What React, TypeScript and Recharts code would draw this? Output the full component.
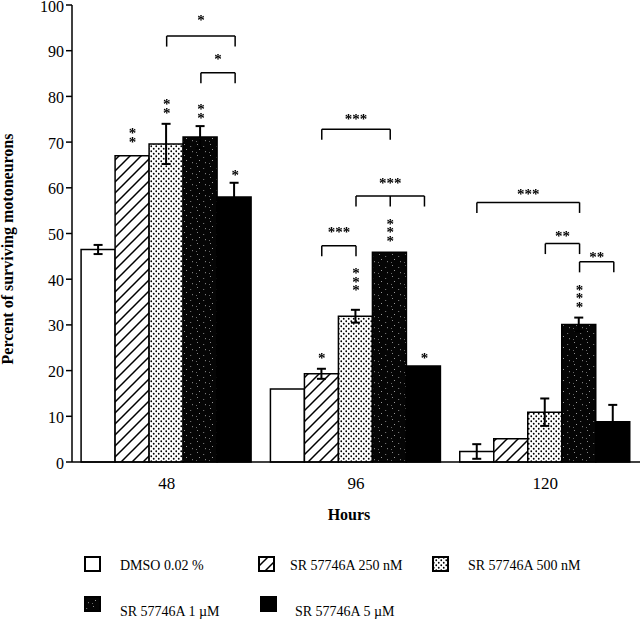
import React from 'react';
import { BarChart, Bar, XAxis, YAxis, ErrorBar, ReferenceLine, ReferenceDot, Legend, Label } from 'recharts';

// values (percent of surviving motoneurons)
const hours = ['48', '96', '120'];
const dmso = [46.5, 16.0, 2.3];
const dmsoErr = [1.0, 0, 1.6];
const nm250 = [67.0, 19.3, 5.1];
const nm250Err = [0, 1.1, 0];
const nm500 = [69.6, 31.9, 10.9];
const nm500Err = [4.4, 1.4, 3.0];
const um1 = [71.1, 45.9, 30.1];
const um1Err = [2.4, 0, 1.5];
const um5 = [58.0, 21.0, 8.8];
const um5Err = [3.1, 0, 3.7];

const yTicks = [0, 10, 20, 30, 40, 50, 60, 70, 80, 90, 100];
const seriesNames = ['DMSO 0.02 %', 'SR 57746A 250 nM', 'SR 57746A 500 nM', 'SR 57746A 1 µM', 'SR 57746A 5 µM'];

// significance stars above single bars (group, bar index, y value, text)
const barStars = [
  { g: 0, b: 1, y: 71.5, t: '**' },
  { g: 0, b: 2, y: 77.9, t: '**' },
  { g: 0, b: 3, y: 76.8, t: '**' },
  { g: 0, b: 4, y: 63.3, t: '*' },
  { g: 1, b: 1, y: 23.2, t: '*' },
  { g: 1, b: 2, y: 40.0, t: '***' },
  { g: 1, b: 3, y: 50.8, t: '***' },
  { g: 1, b: 4, y: 23.3, t: '*' },
  { g: 2, b: 3, y: 36.3, t: '***' },
];

// comparison brackets
const brackets = [
  { g: 0, from: 2, to: 4, y: 93.2, t: '*', ty: 97.3 },
  { g: 0, from: 3, to: 4, y: 85.2, t: '*', ty: 88.8 },
  { g: 1, from: 1, to: 3, y: 72.8, t: '***', ty: 75.6 },
  { g: 1, from: 2, to: 4, mid: 3, y: 58.2, t: '***', ty: 61.5 },
  { g: 1, from: 1, to: 2, y: 47.3, t: '***', ty: 50.8 },
  { g: 2, from: 0, to: 3, y: 56.8, t: '***', ty: 59.1 },
  { g: 2, from: 2, to: 3, y: 47.8, t: '**', ty: 49.9 },
  { g: 2, from: 3, to: 4, y: 43.8, t: '**', ty: 45.4 },
];

const data = hours.map((hour, i) => ({
  hour,
  slot: i,
  dmso: dmso[i], dmsoErr: dmsoErr[i],
  nm250: nm250[i], nm250Err: nm250Err[i],
  nm500: nm500[i], nm500Err: nm500Err[i],
  um1: um1[i], um1Err: um1Err[i],
  um5: um5[i], um5Err: um5Err[i],
}));

const series = [
  { key: 'dmso', err: 'dmsoErr', fill: '#ffffff' },
  { key: 'nm250', err: 'nm250Err', fill: 'url(#hatch)' },
  { key: 'nm500', err: 'nm500Err', fill: 'url(#dots)' },
  { key: 'um1', err: 'um1Err', fill: 'url(#speckle)' },
  { key: 'um5', err: 'um5Err', fill: '#000000' },
];

const FONT = '"Liberation Serif", "Times New Roman", serif';
const GAP = 0.048; // same as barCategoryGap
const LEG = 2.3;
const STAR_SIZE = 15;
const STACK = 8.5;

// centre of bar b in group g on the hidden numeric axis (one unit per group)
const barX = (g: number, b: number) => g + GAP + ((1 - 2 * GAP) / series.length) * (b + 0.5);

const Stars = ({ cx, cy, text, vertical }: any) => {
  const common = {
    textAnchor: 'middle' as const,
    fontFamily: FONT,
    fontSize: STAR_SIZE,
    fontWeight: 'bold',
    fill: '#000',
    stroke: 'none',
  };
  const base = STAR_SIZE * 0.49;
  if (!vertical) {
    return (
      <g filter="url(#gray)">
        <text x={cx} y={cy + base} {...common}>{text}</text>
      </g>
    );
  }
  const n = text.length;
  const top = cy - ((n - 1) / 2) * STACK + base;
  return (
    <g filter="url(#gray)">
      <text x={cx} y={top} {...common}>
        {Array.from(text).map((s: any, i: number) => (
          <tspan key={i} x={cx} dy={i === 0 ? 0 : STACK}>{s}</tspan>
        ))}
      </text>
    </g>
  );
};

const Patterns = () => (
  <defs>
    <filter id="gray" x="-50%" y="-50%" width="200%" height="200%">
      <feColorMatrix type="saturate" values="0" />
    </filter>
    <pattern id="hatch" patternUnits="userSpaceOnUse" width="11" height="11">
      <rect width="11" height="11" fill="#fff" />
      <path d="M-1,12 L12,-1 M-3,3 L3,-3 M8,14 L14,8" stroke="#000" strokeWidth="1.5" />
    </pattern>
    <pattern id="dots" patternUnits="userSpaceOnUse" width="5" height="5">
      <rect width="5" height="5" fill="#fff" />
      <circle cx="1.25" cy="1.25" r="0.9" fill="#000" />
      <circle cx="3.75" cy="3.75" r="0.9" fill="#000" />
    </pattern>
    <pattern id="speckle" patternUnits="userSpaceOnUse" width="13" height="11">
      <rect width="13" height="11" fill="#050505" />
      <rect x="2" y="1" width="1" height="1" fill="#8a8a8a" />
      <rect x="8" y="3" width="1.2" height="1" fill="#6e6e6e" />
      <rect x="4" y="6" width="1" height="1" fill="#9a9a9a" />
      <rect x="10" y="8" width="1" height="1.2" fill="#7a7a7a" />
      <rect x="1" y="9" width="1" height="1" fill="#666" />
    </pattern>
  </defs>
);

const legendPos = [
  [85, 18, 120, 31],
  [259, 18, 290, 31],
  [433, 18, 468, 31],
  [85, 58, 120, 77],
  [261, 58, 295, 77],
];

const renderLegend = () => (
  <svg width={640} height={80} style={{ display: 'block' }}>
    {series.map((s, i) => {
      const [sx, sy, tx, ty] = legendPos[i];
      return (
        <g key={s.key}>
          <rect x={sx} y={sy} width={15} height={14} fill={s.fill} stroke="#000" strokeWidth={2} />
          <text x={tx} y={ty} fontFamily={FONT} fontSize={14} fill="#000">{seriesNames[i]}</text>
        </g>
      );
    })}
  </svg>
);

const YTick = (p: any) => (
  <text x={p.x} y={p.y + 6.5} textAnchor="end" fontFamily={FONT} fontSize={16} fill="#000">
    {p.payload.value}
  </text>
);

export default function App() {
  return (
    <div style={{ position: 'absolute', left: 0, top: 0, width: 640, height: 619, background: '#fff' }}>
      <BarChart
        width={640}
        height={619}
        data={data}
        margin={{ top: 5, right: 0, bottom: 0, left: 0 }}
        barGap={0}
        barCategoryGap="4.8%"
      >
        <Patterns />
        <XAxis
          xAxisId="cat"
          dataKey="hour"
          height={77}
          tickLine={false}
          tickSize={0}
          tickMargin={15}
          axisLine={{ stroke: '#000', strokeWidth: 1.5 }}
          tick={{ fill: '#000', fontSize: 17, fontFamily: FONT }}
        >
          <Label
            content={(p: any) => {
              const vb = p.viewBox || { x: 72, width: 568, y: 462 };
              return (
                <text x={vb.x + vb.width / 2 - 7} y={520} textAnchor="middle" fontFamily={FONT} fontSize={16} fontWeight="bold" fill="#000">
                  Hours
                </text>
              );
            }}
          />
        </XAxis>
        <XAxis xAxisId="num" dataKey="slot" type="number" domain={[0, 3]} allowDataOverflow hide />
        <YAxis
          width={72}
          domain={[0, 100]}
          ticks={yTicks}
          interval={0}
          tickSize={6}
          tickMargin={2}
          axisLine={{ stroke: '#000', strokeWidth: 1.5 }}
          tickLine={{ stroke: '#000', strokeWidth: 1.5 }}
          tick={<YTick />}
        >
          <Label
            content={() => (
              <text transform="translate(13,249) rotate(-90)" textAnchor="middle" fontFamily={FONT} fontSize={16} fontWeight="bold" fill="#000">
                Percent of surviving motoneurons
              </text>
            )}
          />
        </YAxis>
        {series.map((s, i) => (
          <Bar key={s.key} xAxisId="cat" dataKey={s.key} name={seriesNames[i]} fill={s.fill} stroke="#000" strokeWidth={1.5} isAnimationActive={false}>
            <ErrorBar dataKey={s.err} width={4.5} stroke="#000" strokeWidth={2} direction="y" isAnimationActive={false} />
          </Bar>
        ))}
        {brackets.flatMap((br, k) => {
          const x1 = barX(br.g, br.from);
          const x2 = barX(br.g, br.to);
          const legs = [x1, x2];
          if (br.mid !== undefined) legs.push(barX(br.g, br.mid));
          return [
            <ReferenceLine key={`h${k}`} xAxisId="num" segment={[{ x: x1, y: br.y }, { x: x2, y: br.y }]} stroke="#000" strokeWidth={1.5} />,
            ...legs.map((lx, j) => (
              <ReferenceLine key={`l${k}-${j}`} xAxisId="num" segment={[{ x: lx, y: br.y }, { x: lx, y: br.y - LEG }]} stroke="#000" strokeWidth={1.5} />
            )),
            <ReferenceDot
              key={`t${k}`}
              xAxisId="num"
              x={(x1 + x2) / 2}
              y={br.ty}
              r={1}
              shape={(p: any) => <Stars cx={p.cx} cy={p.cy} text={br.t} vertical={false} />}
            />,
          ];
        })}
        {barStars.map((st, k) => (
          <ReferenceDot
            key={`s${k}`}
            xAxisId="num"
            x={barX(st.g, st.b)}
            y={st.y}
            r={1}
            shape={(p: any) => <Stars cx={p.cx} cy={p.cy} text={st.t} vertical />}
          />
        ))}
        <Legend verticalAlign="bottom" content={renderLegend} wrapperStyle={{ left: 0, width: 640, height: 80 }} />
      </BarChart>
    </div>
  );
}
